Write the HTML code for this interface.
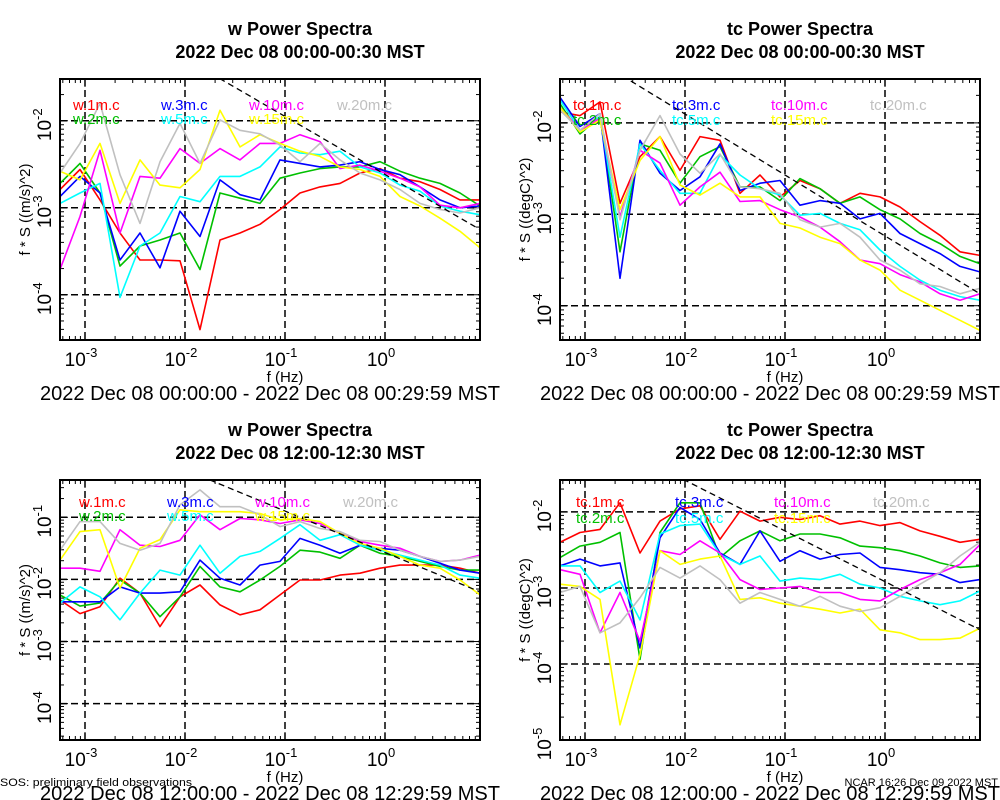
<!DOCTYPE html>
<html><head><meta charset="utf-8">
<style>
html,body{margin:0;padding:0;background:#fff;}
svg{display:block;font-family:"Liberation Sans",sans-serif;}
</style></head>
<body>
<svg id="chart" width="1000" height="800" viewBox="0 0 1000 800" xmlns="http://www.w3.org/2000/svg">
<rect x="0" y="0" width="1000" height="800" fill="#fff"/>
</svg>
<script>
// ---- shared frequency categories (log10 of f in Hz) ----
const logFreq = [-3.25,-3.05,-2.85,-2.65,-2.45,-2.25,-2.05,-1.85,-1.65,-1.45,-1.25,-1.05,-0.85,-0.65,-0.45,-0.25,-0.05,0.15,0.35,0.55,0.75,0.95];
const xTickExps = [-3,-2,-1,0];
const seriesNames = ['1m','2m','3m','5m','10m','15m','20m'];
const seriesColors = ['#ff0000','#00c000','#0000ff','#00ffff','#ff00ff','#ffff00','#c0c0c0'];

// ---- panel 1: w 00:00 (log10 of f*S) ----
const w00_1m  = [-2.79,-2.56,-2.91,-3.29,-3.60,-3.60,-3.61,-4.40,-3.37,-3.29,-3.19,-3.02,-2.83,-2.76,-2.72,-2.60,-2.55,-2.66,-2.70,-2.79,-2.91,-2.91];
const w00_2m  = [-2.72,-2.49,-2.83,-3.67,-3.44,-3.37,-3.29,-3.71,-2.83,-2.89,-2.95,-2.66,-2.60,-2.55,-2.53,-2.53,-2.47,-2.58,-2.66,-2.72,-2.83,-2.98];
const w00_3m  = [-2.87,-2.64,-2.83,-3.60,-3.29,-3.69,-3.04,-3.33,-2.68,-2.85,-2.91,-2.45,-2.49,-2.53,-2.51,-2.47,-2.56,-2.62,-2.76,-2.91,-3.00,-2.98];
const w00_5m  = [-2.95,-2.83,-2.72,-4.03,-3.44,-3.29,-2.87,-2.93,-2.64,-2.64,-2.53,-2.30,-2.37,-2.39,-2.35,-2.53,-2.60,-2.74,-2.81,-2.98,-3.04,-3.08];
const w00_10m = [-3.71,-3.10,-2.34,-3.29,-2.64,-2.66,-2.32,-2.49,-2.32,-2.45,-2.26,-2.26,-2.16,-2.24,-2.55,-2.51,-2.58,-2.66,-2.76,-2.97,-3.00,-2.95];
const w00_15m = [-2.58,-2.68,-2.26,-2.95,-2.45,-2.74,-2.77,-2.56,-1.88,-2.30,-2.16,-2.26,-2.35,-2.41,-2.53,-2.56,-2.64,-2.87,-2.98,-3.12,-3.27,-3.46];
const w00_20m = [-2.60,-2.26,-1.80,-2.62,-3.18,-2.47,-2.03,-2.49,-1.99,-2.11,-2.15,-2.28,-2.47,-2.26,-2.45,-2.60,-2.68,-2.79,-2.95,-3.02,-3.06,-3.00];

// ---- panel 2: tc 00:00 ----
const tc00_1m  = [-1.88,-1.92,-1.77,-2.88,-2.37,-2.15,-2.52,-2.15,-2.19,-2.77,-2.57,-2.81,-2.63,-2.72,-2.88,-2.77,-2.81,-2.92,-3.08,-3.23,-3.41,-3.45];
const tc00_2m  = [-1.79,-2.12,-1.93,-3.41,-2.23,-2.30,-2.66,-2.37,-2.26,-2.70,-2.70,-2.85,-2.61,-2.72,-2.88,-2.81,-2.95,-3.05,-3.21,-3.32,-3.46,-3.54];
const tc00_3m  = [-1.72,-2.04,-1.90,-3.70,-2.19,-2.55,-2.74,-2.59,-2.23,-2.74,-2.66,-2.63,-2.90,-2.85,-2.88,-3.05,-2.99,-3.21,-3.32,-3.43,-3.57,-3.63];
const tc00_5m  = [-1.75,-2.08,-1.93,-3.25,-2.23,-2.52,-2.77,-2.77,-2.35,-2.57,-2.72,-2.79,-3.01,-2.99,-3.10,-3.17,-3.39,-3.57,-3.72,-3.83,-3.90,-3.94];
const tc00_10m = [-1.83,-2.08,-1.95,-3.03,-2.30,-2.44,-2.90,-2.70,-2.54,-2.86,-2.85,-2.95,-3.03,-3.14,-3.30,-3.50,-3.54,-3.66,-3.74,-3.87,-3.94,-3.87];
const tc00_15m = [-1.83,-2.10,-1.97,-2.95,-2.41,-2.15,-2.68,-2.79,-2.66,-2.81,-2.81,-3.10,-3.15,-3.25,-3.32,-3.50,-3.61,-3.83,-3.94,-4.05,-4.16,-4.27];
const tc00_20m = [-1.86,-2.08,-1.90,-3.06,-2.30,-1.92,-2.34,-2.55,-2.34,-2.70,-2.72,-2.77,-3.06,-3.14,-3.10,-3.25,-3.50,-3.61,-3.76,-3.79,-3.87,-3.81];

// ---- panel 3: w 12:00 ----
const w12_1m  = [-2.33,-2.55,-2.44,-1.98,-2.22,-2.76,-2.28,-2.09,-2.41,-2.57,-2.49,-2.25,-2.01,-2.01,-1.93,-1.90,-1.82,-1.77,-1.77,-1.77,-1.82,-1.90];
const w12_2m  = [-2.25,-2.43,-2.38,-2.01,-2.22,-2.60,-2.28,-1.79,-2.12,-2.20,-2.01,-1.79,-1.53,-1.56,-1.66,-1.45,-1.58,-1.63,-1.71,-1.79,-1.85,-1.85];
const w12_3m  = [-2.36,-2.36,-2.36,-2.12,-2.22,-2.22,-2.20,-1.69,-1.98,-2.09,-1.77,-1.71,-1.34,-1.45,-1.58,-1.45,-1.50,-1.53,-1.63,-1.74,-1.85,-1.90];
const w12_5m  = [-2.38,-2.12,-2.28,-2.65,-2.22,-1.85,-1.93,-1.45,-1.90,-1.63,-1.55,-1.34,-1.12,-1.37,-1.28,-1.45,-1.53,-1.61,-1.69,-1.77,-1.93,-1.98];
const w12_10m = [-1.82,-1.82,-1.87,-1.20,-1.45,-1.47,-1.37,-0.96,-1.20,-1.02,-1.04,-1.10,-1.04,-1.10,-1.26,-1.39,-1.45,-1.50,-1.63,-1.71,-1.69,-1.61];
const w12_15m = [-1.69,-1.23,-1.20,-2.14,-1.50,-1.36,-0.88,-0.91,-0.91,-0.91,-0.94,-1.04,-1.02,-1.07,-1.26,-1.42,-1.50,-1.63,-1.77,-1.82,-2.01,-2.25];
const w12_20m = [-1.53,-1.07,-1.07,-1.42,-1.53,-1.42,-0.80,-0.56,-0.83,-0.83,-0.96,-1.15,-1.07,-1.18,-1.23,-1.37,-1.39,-1.53,-1.63,-1.71,-1.69,-1.63];

// ---- panel 4: tc 12:00 ----
const tc12_1m  = [-2.40,-2.27,-2.23,-1.88,-2.54,-2.12,-1.96,-1.92,-2.36,-1.99,-2.12,-2.07,-2.10,-2.05,-2.16,-2.12,-2.18,-2.14,-2.25,-2.32,-2.40,-2.36];
const tc12_2m  = [-2.60,-2.45,-2.40,-2.27,-3.94,-2.27,-1.88,-1.88,-2.60,-2.38,-2.25,-2.38,-2.29,-2.29,-2.34,-2.45,-2.47,-2.51,-2.58,-2.67,-2.73,-2.71];
const tc12_3m  = [-2.71,-2.62,-2.71,-2.67,-3.79,-2.34,-1.94,-2.10,-2.54,-2.69,-2.25,-2.65,-2.51,-2.62,-2.56,-2.54,-2.73,-2.76,-2.80,-2.82,-2.93,-2.89];
const tc12_5m  = [-2.71,-2.71,-3.06,-2.91,-3.42,-2.29,-2.18,-2.16,-2.56,-2.69,-2.58,-2.91,-2.87,-2.89,-2.82,-2.95,-3.00,-3.11,-3.17,-3.22,-3.17,-3.04];
const tc12_10m = [-2.76,-2.82,-3.59,-3.06,-3.70,-2.51,-2.56,-2.38,-2.54,-2.89,-3.02,-3.00,-2.98,-3.06,-3.06,-3.15,-3.17,-3.02,-2.89,-2.80,-2.69,-2.43];
const tc12_15m = [-2.95,-2.98,-3.15,-4.80,-3.88,-2.51,-2.69,-2.62,-2.58,-3.15,-3.13,-3.20,-3.24,-3.28,-3.33,-3.28,-3.55,-3.59,-3.68,-3.68,-3.66,-3.53];
const tc12_20m = [-3.06,-2.98,-3.59,-3.46,-3.13,-2.73,-2.87,-2.71,-2.89,-3.20,-3.06,-3.15,-3.24,-3.11,-3.24,-3.31,-3.26,-3.11,-2.95,-2.80,-2.58,-2.40];

// -2/3 reference slope lines: log10 value at f = 10^0.95
const refSlope = -2/3;
const refAtMax = [-3.25, -3.87, -2.20, -3.55];

const NS = 'http://www.w3.org/2000/svg';
const svg = document.getElementById('chart');
function mk(tag, attrs, parent){
  const e = document.createElementNS(NS, tag);
  for (const k in attrs) e.setAttribute(k, attrs[k]);
  (parent||svg).appendChild(e);
  return e;
}
const X_MIN = -3.25, X_MAX = 0.95;

const panels = [
  {key:'w-00', var:'w', x0:60, x1:480, y0:79, y1:340, ymin:-4.52, ymax:-1.52, yt:[-2,-3,-4],
   data:[w00_1m,w00_2m,w00_3m,w00_5m,w00_10m,w00_15m,w00_20m], ref:refAtMax[0],
   t1:'w Power Spectra', t2:'2022 Dec 08 00:00-00:30 MST', unit:'((m/s)^2)',
   date:'2022 Dec 08 00:00:00 - 2022 Dec 08 00:29:59 MST', leg:[73,161,249,337], legY:[110,124]},
  {key:'tc-00', var:'tc', x0:560, x1:980, y0:79, y1:340, ymin:-4.375, ymax:-1.52, yt:[-2,-3,-4],
   data:[tc00_1m,tc00_2m,tc00_3m,tc00_5m,tc00_10m,tc00_15m,tc00_20m], ref:refAtMax[1],
   t1:'tc Power Spectra', t2:'2022 Dec 08 00:00-00:30 MST', unit:'((degC)^2)',
   date:'2022 Dec 08 00:00:00 - 2022 Dec 08 00:29:59 MST', leg:[573,672,771,870], legY:[110,125]},
  {key:'w-12', var:'w', x0:60, x1:480, y0:480, y1:740, ymin:-4.585, ymax:-0.40, yt:[-1,-2,-3,-4],
   data:[w12_1m,w12_2m,w12_3m,w12_5m,w12_10m,w12_15m,w12_20m], ref:refAtMax[2],
   t1:'w Power Spectra', t2:'2022 Dec 08 12:00-12:30 MST', unit:'((m/s)^2)',
   date:'2022 Dec 08 12:00:00 - 2022 Dec 08 12:29:59 MST', leg:[79,167,255,343], legY:[507,521]},
  {key:'tc-12', var:'tc', x0:560, x1:980, y0:480, y1:740, ymin:-5, ymax:-1.58, yt:[-2,-3,-4,-5],
   data:[tc12_1m,tc12_2m,tc12_3m,tc12_5m,tc12_10m,tc12_15m,tc12_20m], ref:refAtMax[3],
   t1:'tc Power Spectra', t2:'2022 Dec 08 12:00-12:30 MST', unit:'((degC)^2)',
   date:'2022 Dec 08 12:00:00 - 2022 Dec 08 12:29:59 MST', leg:[576,675,774,873], legY:[507,523]}
];

panels.forEach(function(p){
  const g = mk('g', {});
  
  
  const sx = v => p.x0 + (v - X_MIN) / (X_MAX - X_MIN) * (p.x1 - p.x0);
  const sy = v => p.y1 - (v - p.ymin) / (p.ymax - p.ymin) * (p.y1 - p.y0);
  const cx = (p.x0 + p.x1) / 2 + 30;
  const dy = p.y0 - 79;

  const t1 = mk('text', {x:cx, y:35+dy, 'text-anchor':'middle', 'font-size':18, 'font-weight':'bold'}, g);
  t1.textContent = p.t1;
  
  
  const t2 = mk('text', {x:cx, y:58+dy, 'text-anchor':'middle', 'font-size':18, 'font-weight':'bold'}, g);
  t2.textContent = p.t2;
  
  

  const cid = 'clip-' + p.key;
  const cp = mk('clipPath', {id:cid}, g);
  mk('rect', {x:p.x0, y:p.y0, width:p.x1-p.x0, height:p.y1-p.y0}, cp);

  const grid = mk('g', {stroke:'#000', 'stroke-width':1.5, 'stroke-dasharray':'7,4', fill:'none'}, g);
  
  
  xTickExps.forEach(function(e){ mk('line', {x1:sx(e), x2:sx(e), y1:p.y0, y2:p.y1}, grid); });
  p.yt.forEach(function(e){ if (e > p.ymin && e < p.ymax) mk('line', {x1:p.x0, x2:p.x1, y1:sy(e), y2:sy(e)}, grid); });

  const ticks = mk('g', {stroke:'#000', 'stroke-width':1}, g);
  
  
  for (let d = -4; d <= 1; d++) for (let m = 1; m <= 9; m++) {
    const v = d + Math.log10(m);
    if (v < X_MIN || v > X_MAX) continue;
    const L = m === 1 ? 8 : 4;
    mk('line', {x1:sx(v), x2:sx(v), y1:p.y1, y2:p.y1-L}, ticks);
    mk('line', {x1:sx(v), x2:sx(v), y1:p.y0, y2:p.y0+L}, ticks);
  }
  for (let d = -6; d <= 0; d++) for (let m = 1; m <= 9; m++) {
    const v = d + Math.log10(m);
    if (v < p.ymin || v > p.ymax) continue;
    const L = m === 1 ? 8 : 4;
    mk('line', {x1:p.x0, x2:p.x0+L, y1:sy(v), y2:sy(v)}, ticks);
    mk('line', {x1:p.x1, x2:p.x1-L, y1:sy(v), y2:sy(v)}, ticks);
  }

  const lines = mk('g', {'clip-path':'url(#'+cid+')', fill:'none', 'stroke-width':1.6, 'stroke-linejoin':'round'}, g);
  p.data.forEach(function(arr, i){
    const pts = arr.map((v, k) => sx(logFreq[k]).toFixed(1) + ',' + sy(v).toFixed(1)).join(' ');
    const pl = mk('polyline', {points:pts, stroke:seriesColors[i]}, lines);
    
    
  });
  const ra = X_MIN - 1, rb = X_MAX;
  const ref = mk('line', {x1:sx(ra), y1:sy(p.ref + refSlope*(ra - X_MAX)), x2:sx(rb), y2:sy(p.ref), stroke:'#000', 'stroke-width':1.3, 'stroke-dasharray':'6,4'}, lines);
  
  

  const lg = mk('g', {'font-size':15}, g);
  
  
  const order = [[0,0],[1,0],[2,1],[3,1],[4,2],[5,2],[6,3]];
  const rowOf = [0,1,0,1,0,1,0];
  order.forEach(function(o, k){
    const i = o[0];
    const t = mk('text', {x:p.leg[o[1]], y:p.legY[rowOf[k]], fill:seriesColors[i]}, lg);
    t.textContent = p.var + '.' + seriesNames[i] + '.c';
    
    
  });

  const fr = mk('rect', {x:p.x0, y:p.y0, width:p.x1-p.x0, height:p.y1-p.y0, fill:'none', stroke:'#000', 'stroke-width':2}, g);
  
  

  xTickExps.forEach(function(e){
    const t = mk('text', {x:sx(e)-4, y:p.y1+26, 'text-anchor':'middle', 'font-size':19}, g);
    
    
    t.appendChild(document.createTextNode('10'));
    const s = mk('tspan', {dy:-9, 'font-size':13}, t);
    s.textContent = String(e);
  });
  const xl = mk('text', {x:(p.x0+p.x1)/2+15, y:p.y1+42, 'text-anchor':'middle', 'font-size':15}, g);
  xl.textContent = 'f (Hz)';
  
  

  p.yt.forEach(function(e){
    const yy = sy(e);
    const t = mk('text', {x:0, y:0, 'text-anchor':'middle', 'font-size':19, transform:'translate('+(p.x0-9)+','+(yy+4)+') rotate(-90)'}, g);
    
    
    t.appendChild(document.createTextNode('10'));
    const s = mk('tspan', {dy:-9, 'font-size':13}, t);
    s.textContent = String(e);
  });
  const ycx = p.x0 - 30, ycy = (p.y0 + p.y1) / 2;
  const yl = mk('text', {x:0, y:0, 'text-anchor':'middle', 'font-size':15, transform:'translate('+ycx+','+ycy+') rotate(-90)'}, g);
  yl.textContent = 'f * S ' + p.unit;
  
  

  const dt = mk('text', {x:p.x0-20, y:p.y1+60, 'font-size':20, textLength:460, lengthAdjust:'spacingAndGlyphs'}, g);
  dt.textContent = p.date;
  
  
});

const sos = mk('text', {x:0, y:786, 'font-size':11, textLength:192, lengthAdjust:'spacingAndGlyphs'});
sos.textContent = 'SOS: preliminary field observations';


const ncar = mk('text', {x:998, y:786, 'font-size':11, 'text-anchor':'end'});
ncar.textContent = 'NCAR 16:26 Dec 09 2022 MST';


</script>
</body></html>
